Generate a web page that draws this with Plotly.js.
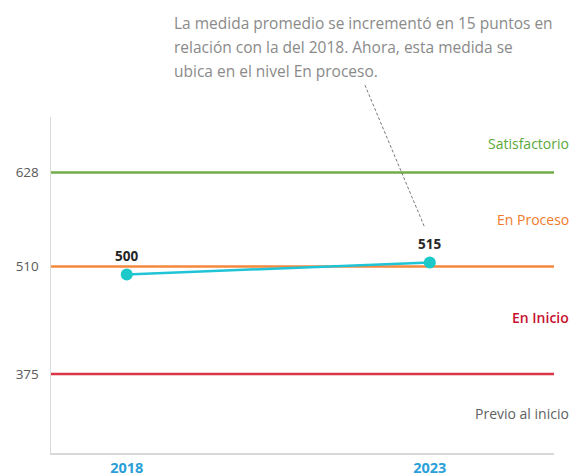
<!DOCTYPE html>
<html>
<head>
<meta charset="utf-8">
<script src="https://cdn.plot.ly/plotly-3.0.1.min.js"></script>
<style>html,body{margin:0;padding:0;background:#fff;}#chart{width:571px;height:476px;}</style>
</head>
<body>
<div id="chart"></div>
<script>
const years = [2018, 2023];
const scores = [500, 515];
const yTicks = [375, 510, 628];
const levelLines = [628, 510, 375];
const levelLineColors = ['#70ad47', '#f5883c', '#dc3545'];
const levelNames = ['Satisfactorio', 'En Proceso', 'En Inicio', 'Previo al inicio'];
const levelNameColors = ['#5aa83a', '#f07a2a', '#c8102e', '#5f5f5f'];
const noteLines = [
  'La medida promedio se incrementó en 15 puntos en',
  'relación con la del 2018. Ahora, esta medida se',
  'ubica en el nivel En proceso.'
];

const FONT = 'Open Sans, Noto Sans, sans-serif';

const shapes = levelLines.map((v, i) => ({
  type: 'line', xref: 'paper', yref: 'y', x0: 0, x1: 1, y0: v, y1: v,
  line: {color: levelLineColors[i], width: 2.5}, layer: 'below'
}));
// dashed callout leader
shapes.push({
  type: 'line', xref: 'x', yref: 'paper', x0: 2021.93, x1: 2022.92, y0: 1.095, y1: 0.67,
  line: {color: '#7a7a7a', width: 1, dash: '3px,2px'}
});

const labelY = [664, 569, 446, 326];
const annotations = levelNames.map((n, i) => ({
  text: n, xref: 'paper', yref: 'y', x: 1.033, y: labelY[i], xanchor: 'right', yanchor: 'middle',
  showarrow: false, font: {family: FONT, size: 14, color: levelNameColors[i], weight: (i === 2 ? 600 : 400)}
}));
scores.forEach((s, i) => annotations.push({
  text: '<b>' + s + '</b>', xref: 'x', yref: 'y', x: years[i], y: s, yshift: 18,
  showarrow: false, font: {family: FONT, size: 13.5, color: '#262626'}
}));
const noteY = [1.2798, 1.2083, 1.1369];
noteLines.forEach((t, i) => annotations.push({
  text: t, xref: 'paper', yref: 'paper', x: 0.240, y: noteY[i], xanchor: 'left', yanchor: 'middle',
  align: 'left', showarrow: false,
  font: {family: FONT, size: 15.5, color: '#8a8a8a'}
}));

const data = [{
  x: years, y: scores, type: 'scatter', mode: 'lines+markers',
  line: {color: '#1fc4d6', width: 2.5},
  marker: {color: '#1cc8c8', size: 12},
  hoverinfo: 'skip', cliponaxis: false
}];

const layout = {
  width: 571, height: 476,
  margin: {l: 51, r: 17, t: 117, b: 23},
  paper_bgcolor: '#ffffff', plot_bgcolor: '#ffffff',
  showlegend: false,
  xaxis: {
    range: [2016.75, 2025.05], tickvals: years, ticktext: years.map(y => '<b>' + y + '</b>'),
    showgrid: false, zeroline: false, showline: true, linecolor: '#d9d9d9', linewidth: 1.5,
    ticks: '', tickfont: {family: FONT, size: 14.5, color: '#2a9fd8'}, ticklabelstandoff: 1
  },
  yaxis: {
    range: [276, 697.5], tickvals: yTicks, ticktext: yTicks.map(String),
    showgrid: false, zeroline: false, showline: true, linecolor: '#d9d9d9', linewidth: 1.5,
    ticks: '', tickfont: {family: FONT, size: 13.5, color: '#595959'}, ticklabelstandoff: 8
  },
  shapes: shapes,
  annotations: annotations
};

Plotly.newPlot('chart', data, layout, {displayModeBar: false, staticPlot: true});
</script>
</body>
</html>
